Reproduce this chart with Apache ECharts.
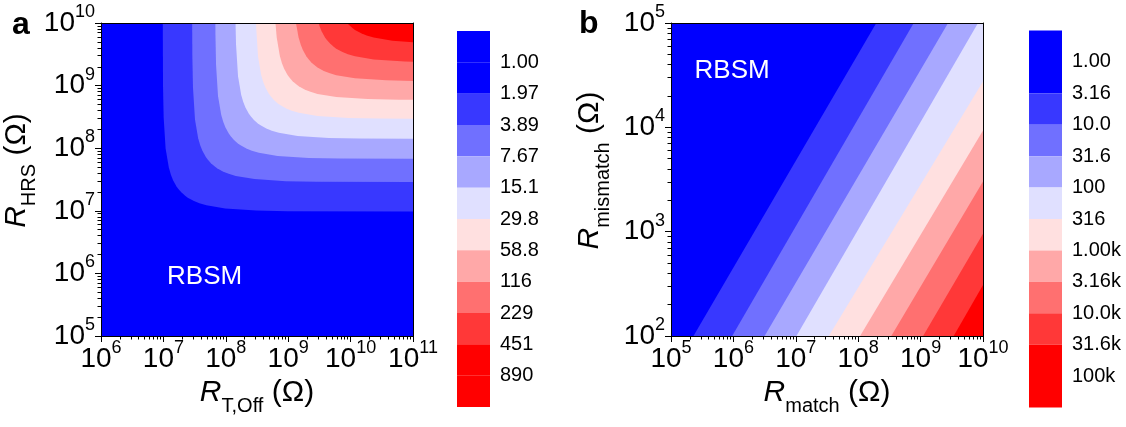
<!DOCTYPE html>
<html><head><meta charset="utf-8">
<script src="https://cdn.jsdelivr.net/npm/echarts@6/dist/echarts.min.js"></script>
<style>html,body{margin:0;padding:0;background:#fff}#c{width:1126px;height:427px}</style>
</head><body><div id="c"></div>
<script>
// ---------------- DATA ----------------
// axis ranges, as log10 exponents
const xRangeA = [6, 11];
const yRangeA = [5, 10];
const xRangeB = [5, 10];
const yRangeB = [2, 5];

// colour-bar labels
const levelsA = ['1.00','1.97','3.89','7.67','15.1','29.8','58.8','116','229','451','890'];
const levelsB = ['1.00','3.16','10.0','31.6','100','316','1.00k','3.16k','10.0k','31.6k','100k'];
// colour-bar bands, top (lowest) to bottom (highest)
const bandColors = ['#0000FF','#0000FF','#3838FF','#7070FF','#A8A8FF','#E0E0FF','#FFE0E0','#FFA8A8','#FF7070','#FF3838','#FF0000','#FF0000'];

// panel a: contour boundaries [log10 R_T,Off, log10 R_HRS], from top edge to right edge
const boundA1 = [[6.99,10],[6.994,8.99],[7.004,8.49],[7.036,7.99],[7.087,7.69],[7.12,7.577],[7.155,7.49],[7.21,7.39],[7.24,7.349],[7.291,7.291],[7.349,7.24],[7.39,7.21],[7.49,7.155],[7.577,7.12],[7.69,7.087],[7.99,7.036],[8.49,7.004],[8.99,6.994],[11,6.99]];
const boundA2 = [[7.461,10],[7.464,9.46],[7.474,8.96],[7.506,8.46],[7.557,8.16],[7.59,8.047],[7.625,7.96],[7.68,7.86],[7.71,7.819],[7.761,7.761],[7.819,7.71],[7.86,7.68],[7.96,7.625],[8.047,7.59],[8.16,7.557],[8.46,7.506],[8.96,7.474],[9.46,7.464],[11,7.46]];
const boundA3 = [[7.833,10],[7.834,9.83],[7.844,9.33],[7.876,8.83],[7.927,8.53],[7.96,8.417],[7.995,8.33],[8.05,8.23],[8.08,8.189],[8.131,8.131],[8.189,8.08],[8.23,8.05],[8.33,7.995],[8.417,7.96],[8.53,7.927],[8.83,7.876],[9.33,7.844],[9.83,7.834],[11,7.83]];
const boundA4 = [[8.156,10],[8.164,9.65],[8.196,9.15],[8.247,8.85],[8.28,8.737],[8.315,8.65],[8.37,8.55],[8.40,8.509],[8.451,8.451],[8.509,8.40],[8.55,8.37],[8.65,8.315],[8.737,8.28],[8.85,8.247],[9.15,8.196],[9.65,8.164],[10.15,8.154],[11,8.151]];
const boundA5 = [[8.483,10],[8.516,9.47],[8.567,9.17],[8.60,9.057],[8.635,8.97],[8.69,8.87],[8.72,8.829],[8.771,8.771],[8.829,8.72],[8.87,8.69],[8.97,8.635],[9.057,8.60],[9.17,8.567],[9.47,8.516],[9.97,8.484],[10.47,8.474],[11,8.471]];
const boundA6 = [[8.796,10],[8.816,9.77],[8.867,9.47],[8.90,9.357],[8.935,9.27],[8.99,9.17],[9.02,9.129],[9.071,9.071],[9.129,9.02],[9.17,8.99],[9.27,8.935],[9.357,8.90],[9.47,8.867],[9.77,8.816],[10.27,8.784],[10.77,8.774],[11,8.773]];
const boundA7 = [[9.124,10],[9.167,9.77],[9.20,9.657],[9.235,9.57],[9.29,9.47],[9.32,9.429],[9.371,9.371],[9.429,9.32],[9.47,9.29],[9.57,9.235],[9.657,9.20],[9.77,9.167],[10.07,9.116],[10.57,9.084],[11,9.075]];
const boundA8 = [[9.486,10],[9.50,9.957],[9.535,9.87],[9.59,9.77],[9.62,9.729],[9.671,9.671],[9.729,9.62],[9.77,9.59],[9.87,9.535],[9.957,9.50],[10.07,9.467],[10.37,9.416],[10.87,9.384],[11,9.38]];
const boundA9 = [[9.944,10],[9.971,9.971],[10.029,9.92],[10.07,9.89],[10.17,9.835],[10.257,9.80],[10.37,9.767],[10.67,9.716],[11,9.691]];

// panel b: contour boundaries [log10 R_match, log10 R_mismatch], bottom edge to top/right edge
const boundB1 = [[5.36,2],[8.29,5]];
const boundB2 = [[5.98,2],[8.89,5]];
const boundB3 = [[6.50,2],[9.44,5]];
const boundB4 = [[7.01,2],[9.92,5]];
const boundB5 = [[7.53,2],[10,4.44]];
const boundB6 = [[8.03,2],[10,3.97]];
const boundB7 = [[8.53,2],[10,3.48]];
const boundB8 = [[9.04,2],[10,2.98]];
const boundB9 = [[9.53,2],[10,2.49]];

// annotation positions (log10 coordinates)
const rbsmA = [7.66, 5.95];
const rbsmB = [5.98, 4.54];
// ------------------------------------------------------------------------

const FONT = '"Liberation Sans", Arial, Helvetica, sans-serif';
const raw = p => [Math.pow(10, p[0]), Math.pow(10, p[1])];

const tickRich = {
  b: {fontSize: 28, fontFamily: FONT, color: '#000'},
  s: {fontSize: 18, fontFamily: FONT, color: '#000', padding: [0, 0, 22, 0]}
};
const nameRich = {
  i: {fontSize: 30, fontFamily: FONT, fontStyle: 'italic', color: '#000'},
  sub: {fontSize: 20, fontFamily: FONT, color: '#000', padding: [27, 0, 0, 0]},
  n: {fontSize: 30, fontFamily: FONT, color: '#000'}
};
const expFmt = v => '{b|10}{s|' + Math.round(Math.log10(v)) + '}';

function mainAxis(grid, range, position, name, gap, namePad) {
  return {
    type: 'log', logBase: 10, gridIndex: grid, position: position, z: 10,
    min: Math.pow(10, range[0]), max: Math.pow(10, range[1]),
    splitNumber: range[1] - range[0],
    name: name, nameLocation: 'middle', nameGap: gap,
    nameTextStyle: {rich: nameRich, padding: namePad},
    axisLine: {show: true, onZero: false, lineStyle: {color: '#000', width: 1}},
    axisTick: {show: true, inside: false, length: 6, lineStyle: {color: '#000', width: 1}},
    minorTick: {show: true, splitNumber: 9, length: 3.5, lineStyle: {color: '#000', width: 1}},
    splitLine: {show: false}, minorSplitLine: {show: false},
    axisLabel: {show: true, formatter: expFmt, rich: tickRich, margin: position === 'bottom' ? 3 : 6,
      showMinLabel: true, showMaxLabel: true, interval: 0}
  };
}
function frameAxis(grid, range, position) {
  return {
    type: 'log', logBase: 10, gridIndex: grid, position: position, z: 10,
    min: Math.pow(10, range[0]), max: Math.pow(10, range[1]),
    axisLine: {show: true, onZero: false, lineStyle: {color: '#000', width: 1}},
    axisTick: {show: false}, axisLabel: {show: false}, splitLine: {show: false}
  };
}
function barXAxis(grid) {
  return {type: 'value', gridIndex: grid, min: 0, max: 1, show: false};
}
function barYAxis(grid, labels) {
  return {
    type: 'value', gridIndex: grid, min: 0, max: bandColors.length, interval: 1, inverse: true,
    position: 'right', axisLine: {show: false}, axisTick: {show: false}, splitLine: {show: false},
    axisLabel: {margin: 10, fontSize: 20, fontFamily: FONT, color: '#000',
      formatter: v => (v >= 1 && v <= labels.length) ? labels[v - 1] : ''}
  };
}

function regionA(pts, color) {
  const corner = raw([xRangeA[1], yRangeA[1]]);
  return {
    type: 'custom', coordinateSystem: 'cartesian2d', xAxisIndex: 0, yAxisIndex: 0,
    silent: true, clip: true, data: pts.map(raw),
    renderItem: function (params, api) {
      if (params.dataIndex !== 0) return null;
      const poly = pts.map(p => api.coord(raw(p)));
      poly.push(api.coord(corner));
      return {type: 'polygon', shape: {points: poly}, style: {fill: color}};
    }
  };
}
function regionB(pts, color) {
  return {
    type: 'custom', coordinateSystem: 'cartesian2d', xAxisIndex: 2, yAxisIndex: 2,
    silent: true, clip: true, data: pts.map(raw),
    renderItem: function (params, api) {
      if (params.dataIndex !== 0) return null;
      const poly = pts.map(p => api.coord(raw(p)));
      const last = pts[pts.length - 1];
      if (last[0] < xRangeB[1]) poly.push(api.coord(raw([xRangeB[1], last[1]])));
      poly.push(api.coord(raw([xRangeB[1], yRangeB[0]])));
      return {type: 'polygon', shape: {points: poly}, style: {fill: color}};
    }
  };
}
function colorBar(xi, yi) {
  return {
    type: 'custom', coordinateSystem: 'cartesian2d', xAxisIndex: xi, yAxisIndex: yi, silent: true,
    data: bandColors.map((c, i) => [i, i + 1]),
    renderItem: function (params, api) {
      const p0 = api.coord([0, api.value(0)]);
      const p1 = api.coord([1, api.value(1)]);
      return {type: 'rect', shape: {x: p0[0], y: Math.min(p0[1], p1[1]), width: p1[0] - p0[0], height: Math.abs(p1[1] - p0[1])},
        style: {fill: bandColors[params.dataIndex]}};
    }
  };
}
function label(xi, yi, pos) {
  return {
    type: 'scatter', xAxisIndex: xi, yAxisIndex: yi, symbolSize: 0, silent: true, z: 5,
    itemStyle: {opacity: 1, color: '#0000FF'},
    data: [raw(pos)],
    label: {show: true, position: 'inside', formatter: 'RBSM', color: '#FFFFFF', opacity: 1,
      textBorderWidth: 0, textShadowBlur: 0, fontSize: 26, fontFamily: FONT}
  };
}

const boundsA = [boundA1, boundA2, boundA3, boundA4, boundA5, boundA6, boundA7, boundA8, boundA9];
const boundsB = [boundB1, boundB2, boundB3, boundB4, boundB5, boundB6, boundB7, boundB8, boundB9];

const series = [];
boundsA.forEach((b, k) => series.push(regionA(b, bandColors[k + 2])));
boundsB.forEach((b, k) => series.push(regionB(b, bandColors[k + 2])));
series.push(colorBar(4, 4), colorBar(5, 5));
series.push(label(0, 0, rbsmA), label(2, 2, rbsmB));

const option = {
  animation: false,
  backgroundColor: '#fff',
  title: [
    {text: 'a', left: 12, top: 9, padding: 0, textStyle: {fontSize: 32, fontWeight: 'bold', fontFamily: FONT, color: '#000'}},
    {text: 'b', left: 579, top: 8, padding: 0, textStyle: {fontSize: 32, fontWeight: 'bold', fontFamily: FONT, color: '#000'}}
  ],
  grid: [
    {left: 101, top: 23, width: 312, height: 313, show: true, backgroundColor: bandColors[0], borderWidth: 0},
    {left: 671, top: 23, width: 312, height: 313, show: true, backgroundColor: bandColors[0], borderWidth: 0},
    {left: 457, top: 31, width: 33, height: 376},
    {left: 1029, top: 30.5, width: 33, height: 377}
  ],
  xAxis: [
    mainAxis(0, xRangeA, 'bottom', '{i|R}{sub|T,Off}{n| (Ω)}', 32, 0),
    frameAxis(0, xRangeA, 'top'),
    mainAxis(1, xRangeB, 'bottom', '{i|R}{sub|match}{n| (Ω)}', 32, 0),
    frameAxis(1, xRangeB, 'top'),
    barXAxis(2), barXAxis(3)
  ],
  yAxis: [
    mainAxis(0, yRangeA, 'left', '{i|R}{sub|HRS}{n| (Ω)}', 58, [0, 0, 0, 18]),
    frameAxis(0, yRangeA, 'right'),
    mainAxis(1, yRangeB, 'left', '{i|R}{sub|mismatch}{n| (Ω)}', 58, [0, 0, 0, 18]),
    frameAxis(1, yRangeB, 'right'),
    barYAxis(2, levelsA), barYAxis(3, levelsB)
  ],
  series: series
};
const chart = echarts.init(document.getElementById('c'), null, {renderer: 'canvas'});
chart.setOption(option);
</script>
</body></html>
